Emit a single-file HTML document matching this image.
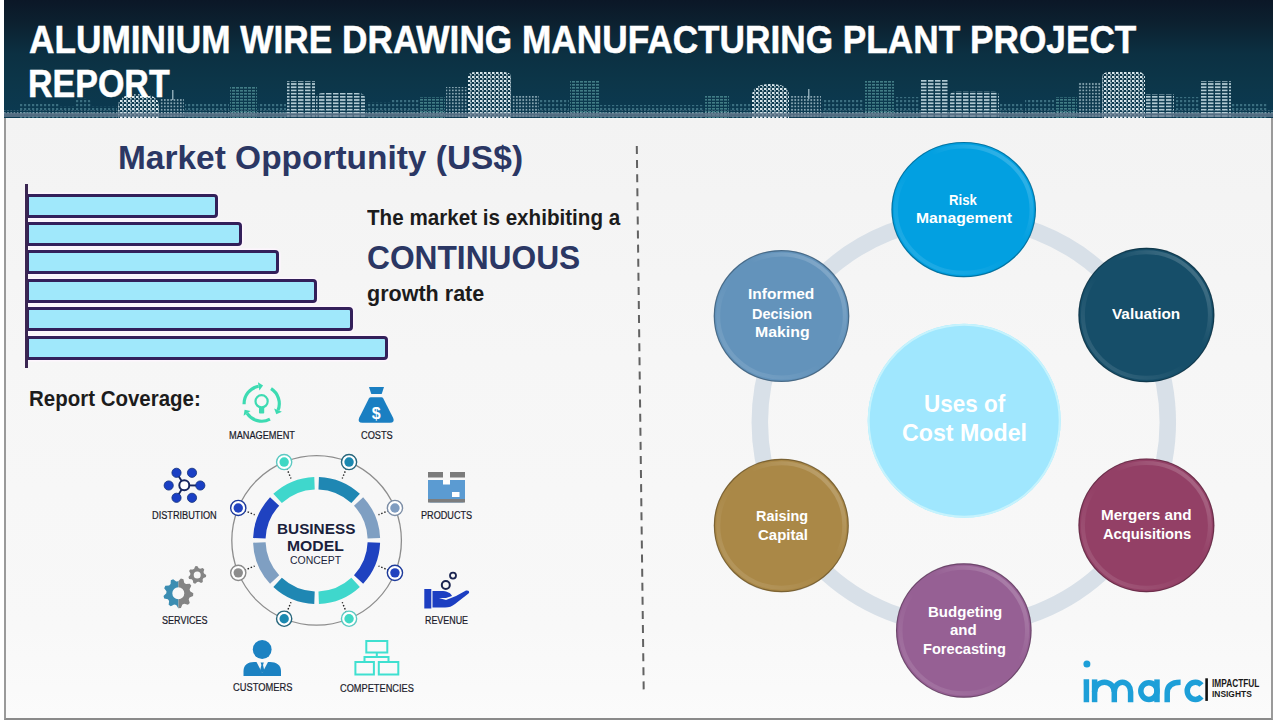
<!DOCTYPE html><html><head><meta charset="utf-8"><style>
*{margin:0;padding:0;box-sizing:border-box}
html,body{width:1280px;height:720px;overflow:hidden;background:#fff}
body{position:relative;font-family:"Liberation Sans",sans-serif}
.a{position:absolute;white-space:nowrap;line-height:1}
.hdr{position:absolute;left:4px;top:0;width:1269px;height:118px;
 background:linear-gradient(180deg,#0b1727 0%,#0c2130 20%,#0c3042 45%,#0c3649 70%,#0b3a52 100%);overflow:hidden}
.content{position:absolute;left:4px;top:118px;width:1269px;height:602px;background:linear-gradient(180deg,#f3f3f3 0%,#f6f6f6 40%,#f8f8f8 85%,#fbfbfb 100%);
 border-left:2px solid #9a9a9a;border-right:2px solid #9a9a9a;border-bottom:2px solid #8a8a8a}
.bar{position:absolute;left:26px;height:24.2px;background:#a0e8fb;border:3px solid #33205a;border-radius:0 4px 4px 0;box-shadow:0 0 0 1.6px #fdf5fd}
.lbl{color:#1d1d2d}
.ct{color:#fff;font-weight:bold;text-align:center}
</style></head><body><div class="content"></div>
<div class="hdr">
<svg width="1269" height="118" style="position:absolute;left:0;top:0"><defs><pattern id="pd" width="4" height="4" patternUnits="userSpaceOnUse"><rect width="2.5" height="2" fill="#e4f0f4"/><rect x="2" y="2" width="1.6" height="1.6" fill="#b8ccd4"/></pattern><pattern id="ps" width="7" height="3.2" patternUnits="userSpaceOnUse"><rect width="5.5" height="1.7" fill="#c4dae2"/></pattern><pattern id="pm" width="3.2" height="3.2" patternUnits="userSpaceOnUse"><rect width="1.7" height="1.7" fill="#a9c3cd"/></pattern><pattern id="pf" width="4" height="4" patternUnits="userSpaceOnUse"><rect width="2.2" height="2.2" fill="#4a8090"/></pattern><pattern id="pt" width="4" height="3" patternUnits="userSpaceOnUse"><rect width="3" height="1.6" fill="#4f8e94"/></pattern></defs><rect x="16" y="104" width="39" height="14" fill="url(#pf)" opacity="0.75"/><rect x="56" y="106" width="14" height="12" fill="url(#pf)" opacity="0.75"/><path d="M71 118 V102.8 Q71 98 79.0 98 Q87 98 87 102.8 V118Z" fill="url(#pf)" opacity="0.75"/><rect x="88" y="106" width="25" height="12" fill="url(#pf)" opacity="0.75"/><path d="M114 118 V106.3 Q114 94 134.5 94 Q155 94 155 106.3 V118Z" fill="url(#pd)" opacity="0.95"/><rect x="156" y="99" width="24" height="19" fill="url(#pm)" opacity="0.8"/><rect x="181" y="104" width="44" height="14" fill="url(#pf)" opacity="0.75"/><rect x="226" y="86" width="27" height="32" fill="url(#pt)" opacity="0.8"/><rect x="254" y="104" width="28" height="14" fill="url(#pf)" opacity="0.75"/><rect x="283" y="81" width="28" height="37" fill="url(#ps)" opacity="0.9"/><path d="M312 118 V98 Q312 93 320 93 H353 Q361 93 361 98 V118Z" fill="url(#ps)" opacity="0.9"/><rect x="362" y="102" width="25" height="16" fill="url(#pf)" opacity="0.75"/><rect x="388" y="100" width="27" height="18" fill="url(#pf)" opacity="0.75"/><rect x="416" y="97" width="25" height="21" fill="url(#pt)" opacity="0.8"/><rect x="442" y="87" width="21" height="31" fill="url(#pm)" opacity="0.8"/><path d="M464 118 V77 Q464 72 472 72 H499 Q507 72 507 77 V118Z" fill="url(#pd)" opacity="0.95"/><rect x="508" y="95" width="27" height="23" fill="url(#pm)" opacity="0.8"/><rect x="536" y="99" width="29" height="19" fill="url(#pf)" opacity="0.75"/><rect x="566" y="81" width="29" height="37" fill="url(#pt)" opacity="0.8"/><rect x="596" y="105" width="39" height="13" fill="url(#pf)" opacity="0.75"/><rect x="636" y="105" width="64" height="13" fill="url(#pf)" opacity="0.75"/><rect x="701" y="96" width="24" height="22" fill="url(#pt)" opacity="0.8"/><rect x="726" y="104" width="21" height="14" fill="url(#pf)" opacity="0.75"/><path d="M748 118 V95.1 Q748 84 766.5 84 Q785 84 785 95.1 V118Z" fill="url(#pd)" opacity="0.95"/><rect x="786" y="96" width="31" height="22" fill="url(#pm)" opacity="0.8"/><rect x="818" y="100" width="42" height="18" fill="url(#pf)" opacity="0.75"/><rect x="861" y="80" width="29" height="38" fill="url(#pt)" opacity="0.8"/><rect x="891" y="97" width="24" height="21" fill="url(#pf)" opacity="0.75"/><rect x="916" y="80" width="29" height="38" fill="url(#ps)" opacity="0.9"/><path d="M946 118 V96 Q946 91 954 91 H987 Q995 91 995 96 V118Z" fill="url(#ps)" opacity="0.9"/><rect x="996" y="103" width="24" height="15" fill="url(#pf)" opacity="0.75"/><rect x="1021" y="100" width="29" height="18" fill="url(#pf)" opacity="0.75"/><rect x="1051" y="97" width="22" height="21" fill="url(#pt)" opacity="0.8"/><rect x="1074" y="82" width="23" height="36" fill="url(#pm)" opacity="0.8"/><path d="M1098 118 V77 Q1098 72 1106 72 H1133 Q1141 72 1141 77 V118Z" fill="url(#pd)" opacity="0.95"/><rect x="1142" y="94" width="28" height="24" fill="url(#ps)" opacity="0.9"/><rect x="1171" y="97" width="24" height="21" fill="url(#pf)" opacity="0.75"/><rect x="1196" y="81" width="31" height="37" fill="url(#ps)" opacity="0.9"/><rect x="1228" y="103" width="35" height="15" fill="url(#pf)" opacity="0.75"/><rect x="168" y="90" width="1.5" height="10" fill="#a9c3cd" opacity=".8"/><rect x="804" y="89" width="1.5" height="10" fill="#a9c3cd" opacity=".8"/><rect x="0" y="110" width="1269" height="5" fill="url(#pm)" opacity=".6"/><rect x="0" y="113" width="1269" height="4" fill="#6a7d92" opacity=".75"/></svg>
</div>
<div class="bar" style="top:193.5px;width:192px"></div>
<div class="bar" style="top:221.9px;width:216px"></div>
<div class="bar" style="top:250.3px;width:253px"></div>
<div class="bar" style="top:278.7px;width:291px"></div>
<div class="bar" style="top:307.1px;width:327px"></div>
<div class="bar" style="top:335.5px;width:361.5px"></div>
<div class="a" style="left:25px;top:184px;width:3px;height:184px;background:#3a2652"></div>
<svg width="1280" height="720" style="position:absolute;left:0;top:0"><circle cx="316.6" cy="540.4" r="84.8" fill="none" stroke="#8d8d8d" stroke-width="1.3"/><path d="M318.70 483.14 A57.3 57.3 0 0 1 355.61 498.43" fill="none" stroke="#1f87b3" stroke-width="12.5"/><path d="M358.57 501.39 A57.3 57.3 0 0 1 373.86 538.30" fill="none" stroke="#7f9fc2" stroke-width="12.5"/><path d="M373.86 542.50 A57.3 57.3 0 0 1 358.57 579.41" fill="none" stroke="#1f42c0" stroke-width="12.5"/><path d="M355.61 582.37 A57.3 57.3 0 0 1 318.70 597.66" fill="none" stroke="#3fd7cc" stroke-width="12.5"/><path d="M314.50 597.66 A57.3 57.3 0 0 1 277.59 582.37" fill="none" stroke="#1f87b3" stroke-width="12.5"/><path d="M274.63 579.41 A57.3 57.3 0 0 1 259.34 542.50" fill="none" stroke="#7f9fc2" stroke-width="12.5"/><path d="M259.34 538.30 A57.3 57.3 0 0 1 274.63 501.39" fill="none" stroke="#1f42c0" stroke-width="12.5"/><path d="M277.59 498.43 A57.3 57.3 0 0 1 314.50 483.14" fill="none" stroke="#3fd7cc" stroke-width="12.5"/><line x1="346.45" y1="468.34" x2="342.24" y2="478.50" stroke="#222" stroke-width="1.4" stroke-dasharray="1.5 1.8"/><circle cx="349.05" cy="462.06" r="7.6" fill="#fff" stroke="#27667c" stroke-width="1.4"/><circle cx="349.05" cy="462.06" r="4.7" fill="#1a88b0"/><line x1="388.66" y1="510.55" x2="378.50" y2="514.76" stroke="#222" stroke-width="1.4" stroke-dasharray="1.5 1.8"/><circle cx="394.94" cy="507.95" r="7.6" fill="#fff" stroke="#7d8ea6" stroke-width="1.4"/><circle cx="394.94" cy="507.95" r="4.7" fill="#7f9cc0"/><line x1="388.66" y1="570.25" x2="378.50" y2="566.04" stroke="#222" stroke-width="1.4" stroke-dasharray="1.5 1.8"/><circle cx="394.94" cy="572.85" r="7.6" fill="#fff" stroke="#1d3a9a" stroke-width="1.4"/><circle cx="394.94" cy="572.85" r="4.7" fill="#2143c0"/><line x1="346.45" y1="612.46" x2="342.24" y2="602.30" stroke="#222" stroke-width="1.4" stroke-dasharray="1.5 1.8"/><circle cx="349.05" cy="618.74" r="7.6" fill="#fff" stroke="#5cc9c2" stroke-width="1.4"/><circle cx="349.05" cy="618.74" r="4.7" fill="#3fd8c4"/><line x1="286.75" y1="612.46" x2="290.96" y2="602.30" stroke="#222" stroke-width="1.4" stroke-dasharray="1.5 1.8"/><circle cx="284.15" cy="618.74" r="7.6" fill="#fff" stroke="#27667c" stroke-width="1.4"/><circle cx="284.15" cy="618.74" r="4.7" fill="#1a88b0"/><line x1="244.54" y1="570.25" x2="254.70" y2="566.04" stroke="#222" stroke-width="1.4" stroke-dasharray="1.5 1.8"/><circle cx="238.26" cy="572.85" r="7.6" fill="#fff" stroke="#8a8a8a" stroke-width="1.4"/><circle cx="238.26" cy="572.85" r="4.7" fill="#8c8c8c"/><line x1="244.54" y1="510.55" x2="254.70" y2="514.76" stroke="#222" stroke-width="1.4" stroke-dasharray="1.5 1.8"/><circle cx="238.26" cy="507.95" r="7.6" fill="#fff" stroke="#1d3a9a" stroke-width="1.4"/><circle cx="238.26" cy="507.95" r="4.7" fill="#2143c0"/><line x1="286.75" y1="468.34" x2="290.96" y2="478.50" stroke="#222" stroke-width="1.4" stroke-dasharray="1.5 1.8"/><circle cx="284.15" cy="462.06" r="7.6" fill="#fff" stroke="#5cc9c2" stroke-width="1.4"/><circle cx="284.15" cy="462.06" r="4.7" fill="#3fd8c4"/><path d="M271.03 388.67 A17.6 17.6 0 0 1 278.02 410.19" fill="none" stroke="#3ddbb2" stroke-width="3.2"/><path d="M276.33 414.37 L281.91 411.77 L274.12 408.62Z" fill="#3ddbb2"/><path d="M269.96 419.14 A17.6 17.6 0 0 1 247.11 413.44" fill="none" stroke="#3ddbb2" stroke-width="3.2"/><path d="M244.59 409.71 L243.63 415.79 L250.59 411.09Z" fill="#3ddbb2"/><path d="M244.11 404.21 A17.6 17.6 0 0 1 258.64 386.27" fill="none" stroke="#3ddbb2" stroke-width="3.2"/><path d="M263.08 385.49 L257.91 382.13 L259.37 390.40Z" fill="#3ddbb2"/><circle cx="261.6" cy="401.3" r="6.1" fill="none" stroke="#3ddbb2" stroke-width="2.2"/><rect x="259" y="407.5" width="5.2" height="6" rx="0.8" fill="#3ddbb2"/><path d="M369 387 H384 L381.7 394 H371.3 Z" fill="#1a7fc2"/><path d="M371 397.3 H381.5 Q382.6 397.3 383.3 398.6 L393.2 418 Q395 422.7 390 422.7 H362.3 Q357.3 422.7 359.1 418 L368.9 398.6 Q369.6 397.3 371 397.3 Z" fill="#1a7fc2"/><text x="376.3" y="418.6" font-family="Liberation Sans" font-weight="bold" font-size="16" fill="#fff" text-anchor="middle">$</text><line x1="184.3" y1="485.3" x2="176.5" y2="472.8" stroke="#16265e" stroke-width="1.8"/><line x1="184.3" y1="485.3" x2="200.3" y2="485.5" stroke="#16265e" stroke-width="1.8"/><line x1="184.3" y1="485.3" x2="176.5" y2="497.8" stroke="#16265e" stroke-width="1.8"/><circle cx="176.5" cy="472.8" r="4.6" fill="#1a3fc4" stroke="#10307a" stroke-width=".8"/><circle cx="192" cy="472.8" r="4.6" fill="#1a3fc4" stroke="#10307a" stroke-width=".8"/><circle cx="168.7" cy="485.5" r="4.6" fill="#1a3fc4" stroke="#10307a" stroke-width=".8"/><circle cx="200.3" cy="485.5" r="4.6" fill="#1a3fc4" stroke="#10307a" stroke-width=".8"/><circle cx="176.5" cy="497.8" r="4.6" fill="#1a3fc4" stroke="#10307a" stroke-width=".8"/><circle cx="192" cy="497.8" r="4.6" fill="#1a3fc4" stroke="#10307a" stroke-width=".8"/><circle cx="184.3" cy="485.3" r="5" fill="#fff" stroke="#16265e" stroke-width="2"/><rect x="428" y="472" width="15" height="5.5" fill="#7b7b7b"/><rect x="450" y="472" width="15" height="5.5" fill="#7b7b7b"/><path d="M428 480 L465 480 L465 500 Q465 502.5 462.5 502.5 L430.5 502.5 Q428 502.5 428 500 Z" fill="#5b9bd2"/><rect x="428" y="499" width="37" height="3.5" fill="#7d7d7d"/><rect x="443" y="480" width="7" height="4.5" fill="#fff"/><rect x="452" y="492" width="7.5" height="5" fill="#fff"/><defs><clipPath id="gl"><rect x="150" y="570" width="28.5" height="50"/></clipPath><clipPath id="gr"><rect x="178.5" y="570" width="30" height="50"/></clipPath></defs><g clip-path="url(#gl)"><path d="M193.30 593.30 L193.07 595.90 L189.58 597.40 L188.69 599.30 L189.79 602.94 L187.94 604.79 L184.30 603.69 L182.40 604.58 L180.90 608.07 L178.30 608.30 L176.22 605.12 L174.20 604.58 L170.80 606.29 L168.66 604.79 L169.11 601.01 L167.91 599.30 L164.20 598.43 L163.53 595.90 L166.30 593.30 L166.48 591.22 L164.20 588.17 L165.31 585.80 L169.11 585.59 L170.59 584.11 L170.80 580.31 L173.17 579.20 L176.22 581.48 L178.30 581.30 L180.90 578.53 L183.43 579.20 L184.30 582.91 L186.01 584.11 L189.79 583.66 L191.29 585.80 L189.58 589.20 L190.12 591.22Z M184.3 593.3 A6 6 0 1 0 172.3 593.3 A6 6 0 1 0 184.3 593.3Z" fill="#3b8db2" fill-rule="evenodd"/></g><g clip-path="url(#gr)"><path d="M193.30 593.30 L193.07 595.90 L189.58 597.40 L188.69 599.30 L189.79 602.94 L187.94 604.79 L184.30 603.69 L182.40 604.58 L180.90 608.07 L178.30 608.30 L176.22 605.12 L174.20 604.58 L170.80 606.29 L168.66 604.79 L169.11 601.01 L167.91 599.30 L164.20 598.43 L163.53 595.90 L166.30 593.30 L166.48 591.22 L164.20 588.17 L165.31 585.80 L169.11 585.59 L170.59 584.11 L170.80 580.31 L173.17 579.20 L176.22 581.48 L178.30 581.30 L180.90 578.53 L183.43 579.20 L184.30 582.91 L186.01 584.11 L189.79 583.66 L191.29 585.80 L189.58 589.20 L190.12 591.22Z M184.3 593.3 A6 6 0 1 0 172.3 593.3 A6 6 0 1 0 184.3 593.3Z" fill="#848484" fill-rule="evenodd"/></g><path d="M206.20 575.00 L205.97 577.00 L203.51 578.04 L202.67 579.36 L202.81 582.04 L201.10 583.11 L198.76 581.82 L197.20 582.00 L195.20 583.77 L193.30 583.11 L192.84 580.47 L191.73 579.36 L189.09 578.90 L188.43 577.00 L190.20 575.00 L190.38 573.44 L189.09 571.10 L190.16 569.39 L192.84 569.53 L194.16 568.69 L195.20 566.23 L197.20 566.00 L198.76 568.18 L200.24 568.69 L202.81 567.96 L204.24 569.39 L203.51 571.96 L204.02 573.44Z M200.7 575 A3.5 3.5 0 1 0 193.7 575 A3.5 3.5 0 1 0 200.7 575Z" fill="#858585" fill-rule="evenodd"/><rect x="424.3" y="589" width="7" height="19.5" fill="#1c3ec2"/><path d="M432.5 591 L441 591 C447 591 451 593 452 596 L446 598 L439 598 L446 600 L456 596 L466 590.5 C469 590 470 592 468.5 593.5 L455 604 C452 606.5 449 607.5 445 607.5 L432.5 607.5 Z" fill="#1c3ec2"/><circle cx="445.8" cy="585" r="4" fill="none" stroke="#1a2450" stroke-width="2"/><circle cx="453" cy="575.6" r="3" fill="none" stroke="#1a2450" stroke-width="1.8"/><circle cx="262.2" cy="649.5" r="9.4" fill="#1c82c2"/><path d="M243.5 676 L243.5 671 C243.5 665 248 662 254 662 L270 662 C276 662 281 665 281 671 L281 676 Z" fill="#1c82c2"/><path d="M256.5 662 L268 662 L262.2 673 Z" fill="#f6f7f8"/><path d="M260.6 662.5 L263.8 662.5 L263 665 L264.3 670.5 L262.2 673 L260.1 670.5 L261.4 665 Z" fill="#1c82c2"/><rect x="366.3" y="641" width="21" height="11.5" fill="none" stroke="#3fe0d0" stroke-width="2"/><path d="M376.8 652.5 V657 M364.5 662 V657 H388.5 V662" fill="none" stroke="#3fe0d0" stroke-width="2"/><rect x="355.4" y="662" width="18.5" height="12.5" fill="none" stroke="#3fe0d0" stroke-width="2"/><rect x="378.8" y="662" width="19.5" height="12.5" fill="none" stroke="#3fe0d0" stroke-width="2"/><line x1="636.8" y1="146" x2="643.7" y2="690" stroke="#626262" stroke-width="2" stroke-dasharray="8 6.09"/><circle cx="963.8" cy="422.2" r="204" fill="none" stroke="#d8e0e8" stroke-width="16.5"/><defs><linearGradient id="hl" x1="0" y1="1" x2="1" y2="0"><stop offset="0" stop-color="#fff" stop-opacity=".16"/><stop offset=".45" stop-color="#fff" stop-opacity="0"/><stop offset=".6" stop-color="#fff" stop-opacity="0"/><stop offset="1" stop-color="#fff" stop-opacity=".28"/></linearGradient></defs><ellipse cx="963.7" cy="209.6" rx="72.3" ry="67.7" fill="#02a0e1"/><ellipse cx="963.7" cy="209.6" rx="67.8" ry="63.2" fill="none" stroke="url(#hl)" stroke-width="4"/><ellipse cx="963.7" cy="209.6" rx="71.7" ry="67.10000000000001" fill="none" stroke="#000" stroke-opacity=".28" stroke-width="1.2"/><ellipse cx="781.5" cy="316" rx="67.8" ry="66" fill="#6393bb"/><ellipse cx="781.5" cy="316" rx="63.3" ry="61.5" fill="none" stroke="url(#hl)" stroke-width="4"/><ellipse cx="781.5" cy="316" rx="67.2" ry="65.4" fill="none" stroke="#000" stroke-opacity=".28" stroke-width="1.2"/><ellipse cx="1146.4" cy="315" rx="68" ry="67.2" fill="#164e69"/><ellipse cx="1146.4" cy="315" rx="63.5" ry="62.7" fill="none" stroke="url(#hl)" stroke-width="4"/><ellipse cx="1146.4" cy="315" rx="67.4" ry="66.60000000000001" fill="none" stroke="#000" stroke-opacity=".28" stroke-width="1.2"/><ellipse cx="781.3" cy="525.5" rx="67.5" ry="66.7" fill="#aa8847"/><ellipse cx="781.3" cy="525.5" rx="63.0" ry="62.2" fill="none" stroke="url(#hl)" stroke-width="4"/><ellipse cx="781.3" cy="525.5" rx="66.9" ry="66.10000000000001" fill="none" stroke="#000" stroke-opacity=".28" stroke-width="1.2"/><ellipse cx="1146.4" cy="525.3" rx="68" ry="66.9" fill="#934066"/><ellipse cx="1146.4" cy="525.3" rx="63.5" ry="62.400000000000006" fill="none" stroke="url(#hl)" stroke-width="4"/><ellipse cx="1146.4" cy="525.3" rx="67.4" ry="66.30000000000001" fill="none" stroke="#000" stroke-opacity=".28" stroke-width="1.2"/><ellipse cx="963.8" cy="630.5" rx="67.8" ry="67.2" fill="#966094"/><ellipse cx="963.8" cy="630.5" rx="63.3" ry="62.7" fill="none" stroke="url(#hl)" stroke-width="4"/><ellipse cx="963.8" cy="630.5" rx="67.2" ry="66.60000000000001" fill="none" stroke="#000" stroke-opacity=".28" stroke-width="1.2"/><ellipse cx="964.2" cy="420.7" rx="96.5" ry="97" fill="#a0e7fe"/><ellipse cx="964.2" cy="420.7" rx="95.5" ry="96" fill="none" stroke="#c6f3fd" stroke-width="2"/></svg>
<svg width="1280" height="720" style="position:absolute;left:0;top:0"><circle cx="1086.9" cy="664.1" r="3.5" fill="#1d9fd8"/><g fill="none" stroke="#1d9fd8" stroke-width="5.5"><path d="M1083.6 681.9 H1086.4 V702.2"/><path d="M1094.6 702.2 V679.4"/><path d="M1094.6 692 A9.85 9.8 0 0 1 1114.3 692 V702.2"/><path d="M1114.3 692 A8.15 9.8 0 0 1 1130.6 692 V702.2"/><ellipse cx="1148.9" cy="691.1" rx="8.1" ry="8.35"/><path d="M1157 679.4 V702.2"/><path d="M1167.2 702.2 V693 Q1167.2 682.15 1180.6 682.15"/><path d="M1201.5 685 A8.2 8.65 0 1 0 1201.5 696.6"/></g><rect x="1205.3" y="678.3" width="2.6" height="22.6" fill="#111"/></svg>
<div class="a" style="left:28.50px;top:20.63px;font-size:38px;transform:scaleX(0.9268);transform-origin:0 0;color:#fff;-webkit-text-stroke:0.5px #fff;font-weight:bold;">ALUMINIUM WIRE DRAWING MANUFACTURING PLANT PROJECT</div>
<div class="a" style="left:28.19px;top:65.03px;font-size:38px;transform:scaleX(0.8949);transform-origin:0 0;color:#fff;-webkit-text-stroke:0.5px #fff;font-weight:bold;">REPORT</div>
<div class="a" style="left:118.23px;top:141.04px;font-size:33.5px;transform:scaleX(0.9984);transform-origin:0 0;color:#2b3764;font-weight:bold;">Market Opportunity (US$)</div>
<div class="a" style="left:367.09px;top:206.75px;font-size:21.2px;transform:scaleX(0.973);transform-origin:0 0;color:#1c1c1c;font-weight:bold;">The market is exhibiting a</div>
<div class="a" style="left:366.83px;top:241.79px;font-size:32.5px;transform:scaleX(0.9761);transform-origin:0 0;color:#2b3764;font-weight:bold;">CONTINUOUS</div>
<div class="a" style="left:366.74px;top:283.35px;font-size:21.2px;transform:scaleX(1.0165);transform-origin:0 0;color:#1c1c1c;font-weight:bold;">growth rate</div>
<div class="a" style="left:28.57px;top:387.65px;font-size:21.2px;transform:scaleX(0.966);transform-origin:0 0;color:#1c1c1c;font-weight:bold;">Report Coverage:</div>
<div class="a" style="left:229.26px;top:430.94px;font-size:10px;transform:scaleX(0.9199);transform-origin:0 0;color:#1a1a2a;-webkit-text-stroke:0.2px #1a1a2a;">MANAGEMENT</div>
<div class="a" style="left:360.54px;top:431.04px;font-size:10px;transform:scaleX(0.9216);transform-origin:0 0;color:#1a1a2a;-webkit-text-stroke:0.2px #1a1a2a;">COSTS</div>
<div class="a" style="left:152.27px;top:510.54px;font-size:10px;transform:scaleX(0.9176);transform-origin:0 0;color:#1a1a2a;-webkit-text-stroke:0.2px #1a1a2a;">DISTRIBUTION</div>
<div class="a" style="left:421.37px;top:510.54px;font-size:10px;transform:scaleX(0.9109);transform-origin:0 0;color:#1a1a2a;-webkit-text-stroke:0.2px #1a1a2a;">PRODUCTS</div>
<div class="a" style="left:161.89px;top:615.63px;font-size:10px;transform:scaleX(0.9027);transform-origin:0 0;color:#1a1a2a;-webkit-text-stroke:0.2px #1a1a2a;">SERVICES</div>
<div class="a" style="left:425.29px;top:615.63px;font-size:10px;transform:scaleX(0.8891);transform-origin:0 0;color:#1a1a2a;-webkit-text-stroke:0.2px #1a1a2a;">REVENUE</div>
<div class="a" style="left:232.73px;top:683.24px;font-size:10px;transform:scaleX(0.9317);transform-origin:0 0;color:#1a1a2a;-webkit-text-stroke:0.2px #1a1a2a;">CUSTOMERS</div>
<div class="a" style="left:339.54px;top:683.53px;font-size:10px;transform:scaleX(0.923);transform-origin:0 0;color:#1a1a2a;-webkit-text-stroke:0.2px #1a1a2a;">COMPETENCIES</div>
<div class="a" style="left:949.14px;top:192.53px;font-size:14.5px;transform:scaleX(0.9078);transform-origin:0 0;color:#fff;font-weight:bold;">Risk</div>
<div class="a" style="left:916.28px;top:211.13px;font-size:14.5px;transform:scaleX(1.0837);transform-origin:0 0;color:#fff;font-weight:bold;">Management</div>
<div class="a" style="left:747.79px;top:287.23px;font-size:14.5px;transform:scaleX(1.0693);transform-origin:0 0;color:#fff;font-weight:bold;">Informed</div>
<div class="a" style="left:751.76px;top:306.53px;font-size:14.5px;transform:scaleX(0.993);transform-origin:0 0;color:#fff;font-weight:bold;">Decision</div>
<div class="a" style="left:754.77px;top:325.33px;font-size:14.5px;transform:scaleX(1.0925);transform-origin:0 0;color:#fff;font-weight:bold;">Making</div>
<div class="a" style="left:1112.22px;top:307.33px;font-size:14.5px;transform:scaleX(1.0567);transform-origin:0 0;color:#fff;font-weight:bold;">Valuation</div>
<div class="a" style="left:756.06px;top:508.53px;font-size:14.5px;transform:scaleX(0.9926);transform-origin:0 0;color:#fff;font-weight:bold;">Raising</div>
<div class="a" style="left:757.60px;top:527.63px;font-size:14.5px;transform:scaleX(1.0325);transform-origin:0 0;color:#fff;font-weight:bold;">Capital</div>
<div class="a" style="left:1100.61px;top:508.33px;font-size:14.5px;transform:scaleX(1.0507);transform-origin:0 0;color:#fff;font-weight:bold;">Mergers and</div>
<div class="a" style="left:1103.31px;top:527.23px;font-size:14.5px;transform:scaleX(1.014);transform-origin:0 0;color:#fff;font-weight:bold;">Acquisitions</div>
<div class="a" style="left:927.82px;top:604.53px;font-size:14.5px;transform:scaleX(1.0361);transform-origin:0 0;color:#fff;font-weight:bold;">Budgeting</div>
<div class="a" style="left:949.92px;top:623.03px;font-size:14.5px;transform:scaleX(1.0384);transform-origin:0 0;color:#fff;font-weight:bold;">and</div>
<div class="a" style="left:923.05px;top:642.43px;font-size:14.5px;transform:scaleX(1.0089);transform-origin:0 0;color:#fff;font-weight:bold;">Forecasting</div>
<div class="a" style="left:923.75px;top:391.65px;font-size:23.8px;transform:scaleX(0.9445);transform-origin:0 0;color:#fff;font-weight:bold;">Uses of</div>
<div class="a" style="left:902.27px;top:421.15px;font-size:23.8px;transform:scaleX(0.9747);transform-origin:0 0;color:#fff;font-weight:bold;">Cost Model</div>
<div class="a" style="left:277.10px;top:520.60px;font-size:15px;transform:scaleX(1.0219);transform-origin:0 0;color:#1a1f3d;font-weight:bold;">BUSINESS</div>
<div class="a" style="left:287.38px;top:537.80px;font-size:15px;transform:scaleX(1.0492);transform-origin:0 0;color:#1a1f3d;font-weight:bold;">MODEL</div>
<div class="a" style="left:290.18px;top:554.82px;font-size:11.2px;transform:scaleX(0.9339);transform-origin:0 0;color:#1a1f3d;">CONCEPT</div>
<div class="a" style="left:1211.86px;top:679.03px;font-size:10px;transform:scaleX(0.8322);transform-origin:0 0;color:#1a1a1a;font-weight:bold;">IMPACTFUL</div>
<div class="a" style="left:1211.85px;top:689.78px;font-size:9px;transform:scaleX(0.9354);transform-origin:0 0;color:#1a1a1a;font-weight:bold;">INSIGHTS</div></body></html>
